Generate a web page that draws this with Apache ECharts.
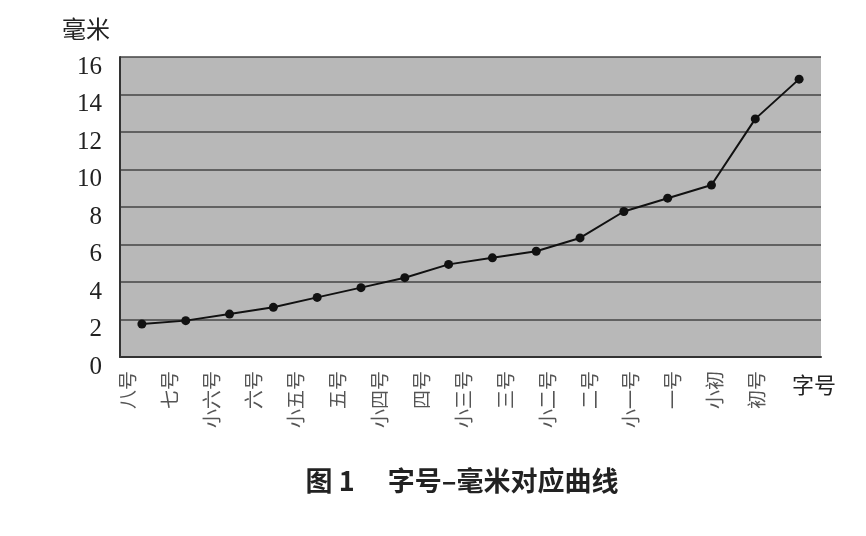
<!DOCTYPE html>
<html><head><meta charset="utf-8">
<script src="https://cdn.jsdelivr.net/npm/echarts@6/dist/echarts.min.js"></script>
<style>html,body{margin:0;padding:0;background:#fff}#c{width:866px;height:536px}</style>
</head><body><div id="c"></div>
<script>
const categories = ['八号','七号','小六号','六号','小五号','五号','小四号','四号','小三号','三号','小二号','二号','小一号','一号','小初','初号'];
const millimetres = [1.76,1.94,2.29,2.65,3.18,3.70,4.23,4.94,5.29,5.64,6.35,7.76,8.47,9.17,12.7,14.82];
const yTicks = [0,2,4,6,8,10,12,14,16];
const titleText = '图 1　 字号–毫米对应曲线';

const chart = echarts.init(document.getElementById('c'));
chart.setOption({
  backgroundColor: '#fff',
  animation: false,
  title: {
    text: titleText, left: 457, top: 462, textAlign: 'center',
    textStyle: {fontFamily: '"Noto Sans CJK SC"', fontSize: 27, fontWeight: 'bold', color: '#222'}
  },
  grid: [
    {left: 120, right: 45, top: 57, bottom: 179, show: true, backgroundColor: '#b8b8b8', borderWidth: 0},
    {left: 107, right: 88, top: 57, bottom: 179, show: false}
  ],
  xAxis: [{
    type: 'category', data: categories, boundaryGap: true, gridIndex: 0,
    axisLine: {lineStyle: {color: '#333', width: 2}},
    axisTick: {show: false},
    axisLabel: {show: false}
  }, {
    type: 'category', data: categories, boundaryGap: true, gridIndex: 1,
    offset: 28,
    name: '字号', nameLocation: 'end', nameGap: 14,
    nameTextStyle: {fontFamily: '"Noto Sans CJK SC"', fontSize: 22, color: '#222', verticalAlign: 'top', lineHeight: 56},
    axisLine: {show: false},
    axisTick: {show: false},
    axisLabel: {rotate: 90, margin: -14, fontFamily: '"Noto Sans CJK SC"', fontSize: 19, color: '#555', interval: 0}
  }],
  yAxis: [{
    type: 'value', min: 0, max: 16, interval: 2, gridIndex: 0,
    name: '毫米', nameLocation: 'end', nameGap: 16,
    nameTextStyle: {fontFamily: '"Noto Sans CJK SC"', fontSize: 24, color: '#222', align: 'right', padding: [0, 10, 0, 0]},
    axisLine: {show: true, lineStyle: {color: '#333', width: 2}},
    axisTick: {show: false},
    axisLabel: {fontFamily: '"Liberation Serif"', fontSize: 25, color: '#222', margin: 18, verticalAlign: 'top', lineHeight: 20,
      formatter: v => yTicks.includes(v) ? String(v) : ''},
    splitLine: {show: true, lineStyle: {color: '#444', width: 1.5}}
  }, {
    type: 'value', min: 0, max: 16, interval: 2, gridIndex: 1, show: false
  }],
  series: [{
    type: 'line', data: millimetres, xAxisIndex: 0, yAxisIndex: 0,
    symbol: 'circle', symbolSize: 9,
    lineStyle: {color: '#111', width: 2}, itemStyle: {color: '#111'}
  }]
});
</script></body></html>
